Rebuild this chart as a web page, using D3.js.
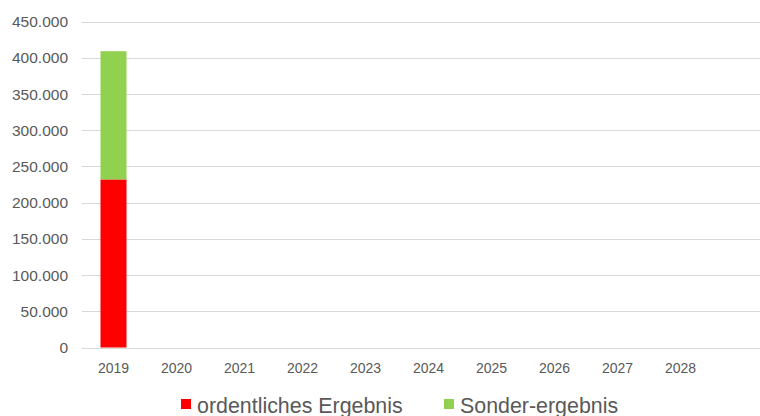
<!DOCTYPE html>
<html><head><meta charset="utf-8">
<script src="https://cdn.jsdelivr.net/npm/d3@7"></script>
<style>body{margin:0;background:#fff;}svg{display:block;}</style>
</head><body>
<svg id="c" width="760" height="416"></svg>
<script>
const years = ["2019","2020","2021","2022","2023","2024","2025","2026","2027","2028"];
const ordentliches = [232000,null,null,null,null,null,null,null,null,null];
const sonder = [177000,null,null,null,null,null,null,null,null,null];
const yTicks = [0,50000,100000,150000,200000,250000,300000,350000,400000,450000];
const seriesNames = ["ordentliches Ergebnis","Sonder-ergebnis"];
const colors = ["#FF0000","#92D050"];

(function(){
const svg = d3.select("#c");
const mLeft = 82, mRight = 760, mTop = 21.5, mBottom = 347.5;
const x = d3.scaleBand().domain(years).range([mLeft, mLeft + 63*years.length]).paddingInner(0.587).paddingOuter(0.2935);
const y = d3.scaleLinear().domain([0,450000]).range([mBottom, mTop]);
const fmt = v => d3.format(",")(v).replace(/,/g,".");

svg.append("g").selectAll("line").data(yTicks).join("line")
  .attr("x1", mLeft).attr("x2", mRight)
  .attr("y1", d=>Math.round(y(d))+0.5).attr("y2", d=>Math.round(y(d))+0.5)
  .attr("stroke","#D9D9D9").attr("stroke-width",1);

svg.append("g").selectAll("text").data(yTicks).join("text")
  .attr("x", 68).attr("y", d=>y(d)).attr("dy","0.36em")
  .attr("text-anchor","end").attr("fill","#595959")
  .style("font-family","'Liberation Sans', Arial, sans-serif").style("font-size","15.5px")
  .text(d=>fmt(d));

const stackData = years.map((yr,i)=>({year:yr, a:ordentliches[i]||0, b:sonder[i]||0}));
const stack = d3.stack().keys(["a","b"])(stackData);
svg.append("g").selectAll("g").data(stack).join("g")
  .attr("fill",(d,i)=>colors[i])
  .selectAll("rect").data(d=>d.filter(s=>s[1]-s[0]>0)).join("rect")
  .attr("x", d=>x(d.data.year)).attr("width", x.bandwidth())
  .attr("y", d=>y(d[1])).attr("height", d=>y(d[0])-y(d[1]));

svg.append("g").selectAll("text").data(years).join("text")
  .attr("x", d=>x(d)+x.bandwidth()/2).attr("y", 373)
  .attr("text-anchor","middle").attr("fill","#595959")
  .style("font-family","'Liberation Sans', Arial, sans-serif").style("font-size","14px")
  .text(d=>d);

const leg = svg.append("g");
const legX = [181, 444];
seriesNames.forEach((n,i)=>{
  leg.append("rect").attr("x",legX[i]).attr("y",399).attr("width",10).attr("height",10).attr("fill",colors[i]);
  leg.append("text").attr("x",legX[i]+16).attr("y",413).attr("fill","#595959")
    .style("font-family","'Liberation Sans', Arial, sans-serif").style("font-size","21.4px").text(n);
});
})();
</script>
</body></html>
